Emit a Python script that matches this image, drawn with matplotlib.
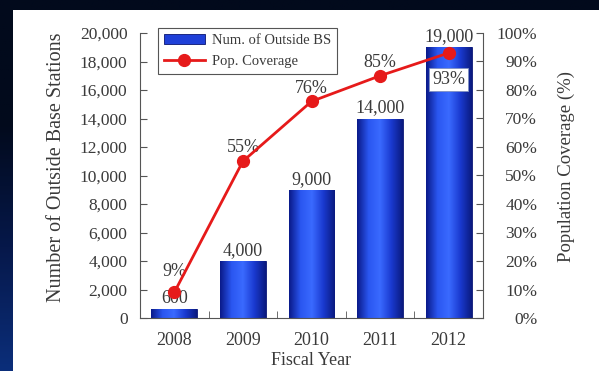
import numpy as np
import matplotlib
matplotlib.use("Agg")
import matplotlib.pyplot as plt
from matplotlib.colors import LinearSegmentedColormap
from matplotlib.patches import Rectangle
from matplotlib.lines import Line2D

years = ["2008", "2009", "2010", "2011", "2012"]
stations = [600, 4000, 9000, 14000, 19000]
coverage = [9, 55, 76, 85, 93]
station_labels = ["600", "4,000", "9,000", "14,000", "19,000"]
coverage_labels = ["9%", "55%", "76%", "85%", "93%"]
left_ticks = [0, 2000, 4000, 6000, 8000, 10000, 12000, 14000, 16000, 18000, 20000]
right_ticks = [0, 10, 20, 30, 40, 50, 60, 70, 80, 90, 100]

plt.rcParams['font.family'] = ['Liberation Serif', 'DejaVu Serif']
txt = '#3a3a3a'
FS = 12.5

W, H = 599, 371
fig = plt.figure(figsize=(W / 100, H / 100), dpi=100)
fig.patch.set_facecolor('#020a1c')

# background decor: blue streak region lower-left
bg = fig.add_axes([0, 0, 1, 1], zorder=-10)
bg.set_axis_off()
g = np.linspace(0, 1, 200)[:, None] * np.ones((1, 10))
cm_bg = LinearSegmentedColormap.from_list('bg', ['#0b2e7a', '#06184a', '#020a1c', '#020a1c'])
bg.imshow(g, extent=[0, 1, 0, 1], aspect='auto', cmap=cm_bg, origin='lower')
bg.set_xlim(0, 1); bg.set_ylim(0, 1)
# white panel
bg.add_patch(Rectangle((13 / W, 0), 1 - 13 / W, 1 - 10 / H, transform=bg.transAxes,
                       facecolor='white', edgecolor='none', zorder=5))

x0, x1 = 140, 483
y0, y1 = 318, 33
ax = fig.add_axes([x0 / W, 1 - y0 / H, (x1 - x0) / W, (y0 - y1) / H])
ax.set_facecolor('none')
x = np.arange(len(years))
bars = ax.bar(x, stations, width=0.67, color='#1c3cd0', edgecolor='#0a1570', linewidth=0.6, zorder=2)

cm_bar = LinearSegmentedColormap.from_list('bar', ['#0a1a8a', '#2a56f0', '#3a6aff', '#1a3ad0', '#0a1a80'])
grad = np.linspace(0, 1, 100)[None, :]
for b in bars:
    bx, by = b.get_x(), b.get_y()
    im = ax.imshow(grad, extent=[bx, bx + b.get_width(), by, by + b.get_height()],
                   aspect='auto', cmap=cm_bar, zorder=2.5)
    im.set_clip_path(b)

ax.set_xlim(-0.5, len(years) - 0.5)
ax.set_ylim(0, 20000)
ax.set_yticks(left_ticks)
ax.set_yticklabels([f"{v:,}" for v in left_ticks])
ax.set_xticks(x)
ax.set_xticklabels(years)
ax.set_xticks(np.arange(len(years) + 1) - 0.5, minor=True)
ax.tick_params(axis='x', which='major', length=0, pad=10, labelsize=13, colors=txt)
ax.tick_params(axis='x', which='minor', direction='in', length=5, color='#555555')
ax.tick_params(axis='y', direction='in', length=5, pad=9, labelsize=FS, colors=txt, color='#555555')
for s in ['top', 'right']:
    ax.spines[s].set_visible(False)
for s in ['left', 'bottom']:
    ax.spines[s].set_color('#555555')
ax.set_xlabel('Fiscal Year', fontsize=13, color=txt, labelpad=2)
ax.set_ylabel('Number of Outside Base Stations', fontsize=14.5, color=txt)
ax.yaxis.set_label_coords(-0.215, 0.528)

for xi, v, lab in zip(x, stations, station_labels):
    ax.annotate(lab, (xi, v), xytext=(0, 1.5), textcoords='offset points',
                ha='center', va='bottom', fontsize=13, color=txt, zorder=4)

ax2 = ax.twinx()
ax2.set_ylim(0, 100)
ax2.set_yticks(right_ticks)
ax2.set_yticklabels([f"{v}%" for v in right_ticks], ha='right')
ax2.tick_params(axis='y', direction='in', length=5, pad=39, labelsize=FS, colors=txt, color='#555555')
for s in ['top', 'left', 'bottom']:
    ax2.spines[s].set_visible(False)
ax2.spines['right'].set_color('#555555')
ax2.set_ylabel('Population Coverage (%)', fontsize=13.5, color=txt, rotation=90)
ax2.yaxis.set_label_coords(1.219, 0.53)

ax2.plot(x, coverage, color='#e61a1a', lw=2, marker='o', ms=8.5, zorder=5)
for i, (xi, v, lab) in enumerate(zip(x, coverage, coverage_labels)):
    if i == len(coverage) - 1:
        ax2.annotate(lab, (xi, v), xytext=(0, -19), textcoords='offset points',
                     ha='center', va='center', fontsize=13, color=txt,
                     bbox=dict(boxstyle='square,pad=0.15', fc='white', ec='#8090c0', lw=0.6))
    elif i == 0:
        ax2.annotate(lab, (xi, v), xytext=(0, 9), textcoords='offset points',
                     ha='center', va='bottom', fontsize=13, color=txt)
    else:
        ax2.annotate(lab, (xi, v), xytext=(0, 3.5), textcoords='offset points',
                     ha='center', va='bottom', fontsize=13, color=txt)

handles = [Rectangle((0, 0), 1, 1, facecolor='#1f40d8', edgecolor='#0a1570', lw=0.6),
           Line2D([], [], color='#e61a1a', lw=2, marker='o', ms=8.5)]
leg = ax2.legend(handles, ['Num. of Outside BS', 'Pop. Coverage'],
                 loc='upper left', bbox_to_anchor=(158 / W, 1 - 28 / H),
                 bbox_transform=fig.transFigure, fancybox=False, framealpha=1,
                 edgecolor='#555555', fontsize=10.5, handlelength=2.8, borderpad=0.4,
                 labelspacing=0.55, handletextpad=0.5, borderaxespad=0)
for t in leg.get_texts():
    t.set_color(txt)
leg.get_frame().set_linewidth(0.8)

fig.savefig('out.png', dpi=100, facecolor=fig.get_facecolor())
